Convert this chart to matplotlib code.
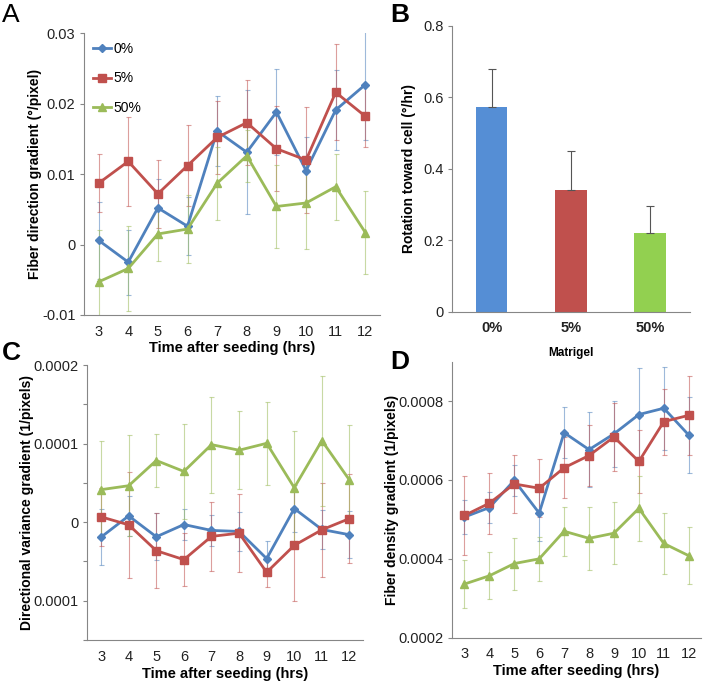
import numpy as np
import matplotlib
matplotlib.use("Agg")
import matplotlib.pyplot as plt

plt.rcParams['font.family'] = ['Liberation Sans', 'DejaVu Sans']

# time points (hrs) shared by panels A, C, D
hours = [3, 4, 5, 6, 7, 8, 9, 10, 11, 12]
series_names = ['0%', '5%', '50%']

# Panel A: fiber direction gradient (deg/pixel)
a_0 = [0.0006, -0.0025, 0.0052, 0.0026, 0.0161, 0.0131, 0.0188, 0.0105, 0.0191, 0.0227]
a_5 = [0.0087, 0.0118, 0.0072, 0.0112, 0.0152, 0.0173, 0.0136, 0.0120, 0.0216, 0.0182]
a_50 = [-0.0053, -0.0034, 0.0015, 0.0022, 0.0087, 0.0126, 0.0054, 0.0059, 0.0082, 0.0017]
a_0_err = [0.0055, 0.0046, 0.0041, 0.0041, 0.0050, 0.0088, 0.0061, 0.0048, 0.0057, 0.0078]
a_5_err = [0.0041, 0.0063, 0.0048, 0.0058, 0.0052, 0.0060, 0.0060, 0.0075, 0.0068, 0.0044]
a_50_err = [0.0074, 0.0061, 0.0038, 0.0048, 0.0052, 0.0037, 0.0059, 0.0065, 0.0047, 0.0059]

# Panel B: rotation toward cell (deg/hr)
matrigel = ['0%', '5%', '50%']
rotation = [0.573, 0.340, 0.220]
rotation_err = [0.106, 0.110, 0.077]

# Panel C: directional variance gradient (1/pixels)
c_0 = [-0.0000190, 0.0000080, -0.0000186, -0.0000030, -0.0000105,
       -0.0000118, -0.0000464, 0.0000173, -0.0000093, -0.0000160]
c_5 = [0.0000068, -0.0000034, -0.0000363, -0.0000477, -0.0000181,
       -0.0000140, -0.0000638, -0.0000295, -0.0000097, 0.0000046]
c_50 = [0.0000414, 0.0000464, 0.0000785, 0.0000646, 0.0000987,
        0.0000916, 0.0001004, 0.0000439, 0.0001038, 0.0000536]
c_0_err = [0.0000356, 0.0000250, 0.0000300, 0.0000200, 0.0000200,
           0.0000250, 0.0000220, 0.0000300, 0.0000250, 0.0000300]
c_5_err = [0.0000373, 0.0000674, 0.0000475, 0.0000335, 0.0000436,
           0.0000496, 0.0000186, 0.0000712, 0.0000600, 0.0000564]
c_50_err = [0.0000613, 0.0000640, 0.0000343, 0.0000610, 0.0000610,
            0.0000500, 0.0000530, 0.0000716, 0.0000826, 0.0000695]

# Panel D: fiber density gradient (1/pixels)
d_0 = [0.000506, 0.000530, 0.000599, 0.000516, 0.000720, 0.000677, 0.000717, 0.000766, 0.000782, 0.000714]
d_5 = [0.000510, 0.000541, 0.000590, 0.000579, 0.000631, 0.000662, 0.000709, 0.000647, 0.000748, 0.000764]
d_50 = [0.000336, 0.000357, 0.000388, 0.000400, 0.000470, 0.000452, 0.000465, 0.000528, 0.000439, 0.000408]
d_0_err = [0.000042, 0.000040, 0.000040, 0.000070, 0.000065, 0.000096, 0.000083, 0.000117, 0.000105, 0.000097]
d_5_err = [0.000100, 0.000077, 0.000073, 0.000073, 0.000077, 0.000078, 0.000086, 0.000080, 0.000084, 0.000100]
d_50_err = [0.000061, 0.000060, 0.000066, 0.000055, 0.000062, 0.000080, 0.000079, 0.000082, 0.000077, 0.000073]

a_ticks = [-0.01, 0, 0.01, 0.02, 0.03]
a_ticklabels = ['-0.01', '0', '0.01', '0.02', '0.03']
b_ticks = [0, 0.2, 0.4, 0.6, 0.8]
b_ticklabels = ['0', '0.2', '0.4', '0.6', '0.8']
c_ticks = [-0.00015, -0.0001, -0.00005, 0, 0.00005, 0.0001, 0.00015, 0.0002]
c_ticklabels = ['', '0.0001', '', '0', '', '0.0001', '', '0.0002']
d_ticks = [0.0002, 0.0004, 0.0006, 0.0008]
d_ticklabels = ['0.0002', '0.0004', '0.0006', '0.0008']

line_colors = ['#4F81BD', '#C0504D', '#9BBB59']
markers = ['D', 's', '^']
msizes = [4, 6, 6]
bar_colors = ['#558ED5', '#C0504D', '#92D050']
axis_gray = '#868686'
text_col = '#222222'

fig = plt.figure(figsize=(7.04, 6.84), dpi=100)


def style_axes(ax):
    for s in ['top', 'right']:
        ax.spines[s].set_visible(False)
    for s in ['left', 'bottom']:
        ax.spines[s].set_color(axis_gray)
        ax.spines[s].set_linewidth(0.8)
    ax.tick_params(axis='y', length=3, color=axis_gray, labelsize=10.5, labelcolor=text_col, pad=3)
    ax.tick_params(axis='x', length=0, labelsize=10.5, labelcolor=text_col, pad=7)


def line_panel(ax, ys, errs, ylim, ticks, ticklabels, ylabel, legend=False):
    for y, e, c, m, ms, name in zip(ys, errs, line_colors, markers, msizes, series_names):
        ax.errorbar(hours, y, yerr=e, fmt='none', ecolor=c, elinewidth=0.8,
                    capsize=1.8, capthick=0.8, alpha=0.55, zorder=2)
        ax.plot(hours, y, color=c, lw=2, marker=m, ms=ms, label=name, zorder=3)
    ax.set_xlim(hours[0] - 0.5, hours[-1] + 0.5)
    ax.set_xticks(hours)
    ax.set_ylim(*ylim)
    ax.set_yticks(ticks)
    ax.set_yticklabels(ticklabels)
    ax.set_ylabel(ylabel, fontsize=10, fontweight='bold', labelpad=0)
    ax.set_xlabel('Time after seeding (hrs)', fontsize=10.5, fontweight='bold', labelpad=2)
    style_axes(ax)
    if legend:
        ax.legend(loc='upper left', bbox_to_anchor=(0.0, 1.0), frameon=False,
                  fontsize=10, handlelength=1.3, handletextpad=0.2,
                  labelspacing=1.1, borderaxespad=0.25)


axA = fig.add_axes([0.119, 0.5395, 0.421, 0.412])
line_panel(axA, [a_0, a_5, a_50], [a_0_err, a_5_err, a_50_err], (-0.01, 0.03),
           a_ticks, a_ticklabels, 'Fiber direction gradient (°/pixel)', legend=True)

axB = fig.add_axes([0.642, 0.5443, 0.338, 0.4177])
xb = np.arange(len(matrigel))
axB.bar(xb, rotation, width=0.4, color=bar_colors, zorder=2)
axB.errorbar(xb, rotation, yerr=[np.zeros(len(rotation)), rotation_err], fmt='none',
             ecolor='#555555', elinewidth=0.8, capsize=3, capthick=0.8, zorder=3)
axB.set_xlim(-0.5, len(matrigel) - 0.5)
axB.set_xticks(xb)
axB.set_xticklabels(matrigel, fontweight='bold')
axB.set_ylim(0, 0.8)
axB.set_yticks(b_ticks)
axB.set_yticklabels(b_ticklabels)
axB.set_ylabel('Rotation toward cell (°/hr)', fontsize=10, fontweight='bold', labelpad=5)
axB.set_xlabel('Matrigel', fontsize=8.5, fontweight='bold', labelpad=8)
style_axes(axB)

axC = fig.add_axes([0.124, 0.0643, 0.392, 0.402])
line_panel(axC, [c_0, c_5, c_50], [c_0_err, c_5_err, c_50_err], (-0.00015, 0.0002),
           c_ticks, c_ticklabels, 'Directional variance gradient (1/pixels)')

axD = fig.add_axes([0.642, 0.0677, 0.354, 0.4035])
line_panel(axD, [d_0, d_5, d_50], [d_0_err, d_5_err, d_50_err], (0.0002, 0.0009),
           d_ticks, d_ticklabels, 'Fiber density gradient (1/pixels)')

fig.text(0.003, 0.995, 'A', fontsize=19, va='top', ha='left')
fig.text(0.555, 0.995, 'B', fontsize=19, fontweight='bold', va='top', ha='left')
fig.text(0.003, 0.502, 'C', fontsize=19, fontweight='bold', va='top', ha='left')
fig.text(0.555, 0.488, 'D', fontsize=19, fontweight='bold', va='top', ha='left')

fig.savefig('out.png', dpi=100)
